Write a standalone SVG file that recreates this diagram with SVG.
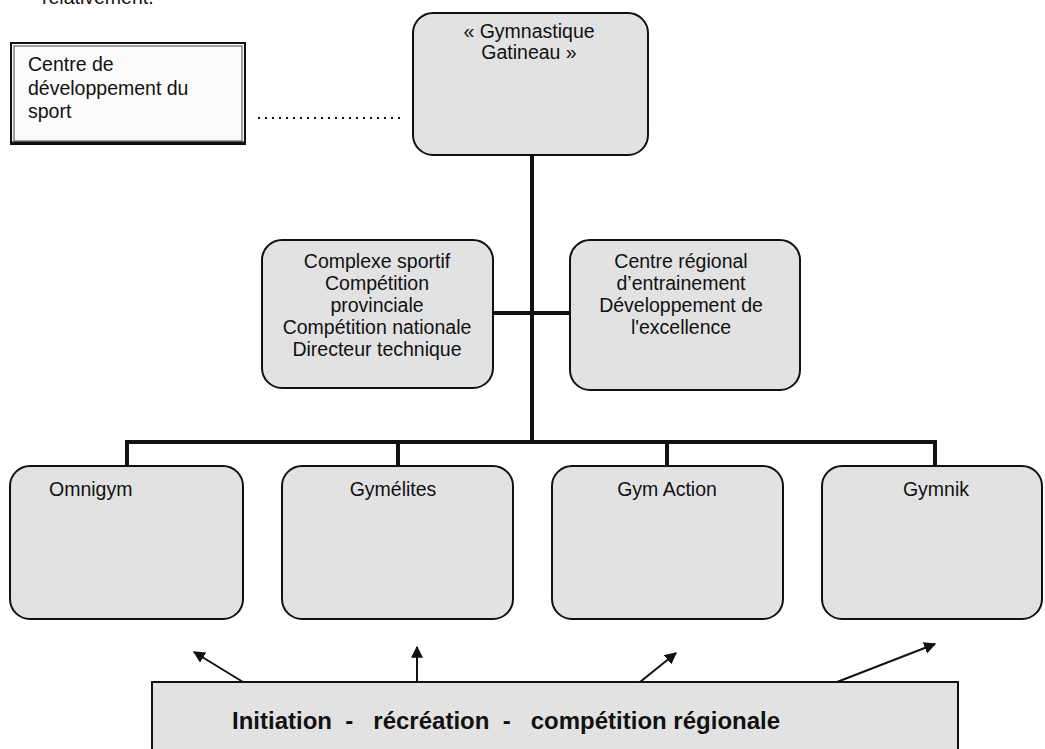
<svg xmlns="http://www.w3.org/2000/svg" width="1045" height="749" viewBox="0 0 1045 749">
<style>
text{font-family:"Liberation Sans",Arial,sans-serif;fill:#111}
.t{font-size:19.5px}
.c{text-anchor:middle}
.box{fill:#e2e2e2;stroke:#111;stroke-width:2}
.bus{stroke:#111;stroke-width:4;fill:none}
.arr{stroke:#111;stroke-width:2;fill:none;marker-end:url(#ah)}
</style>
<defs>
<marker id="ah" viewBox="0 0 10 10" refX="9" refY="5" markerWidth="6" markerHeight="6" orient="auto" markerUnits="strokeWidth">
<path d="M0,0 L10,5 L0,10 z" fill="#111"/>
</marker>
</defs>
<rect width="1045" height="749" fill="#fff"/>
<text class="t" x="42" y="4">relativement.</text>
<g id="connectors">
<line x1="258" y1="118" x2="403" y2="118" stroke="#111" stroke-width="2" stroke-dasharray="2,5"/>
<line class="bus" x1="532" y1="155" x2="532" y2="442"/>
<line class="bus" x1="493" y1="313" x2="570" y2="313"/>
<polyline class="bus" points="127,466 127,442 935,442 935,466"/>
<line class="bus" x1="398" y1="442" x2="398" y2="466"/>
<line class="bus" x1="667" y1="442" x2="667" y2="466"/>
<line class="arr" x1="243" y1="682" x2="194" y2="652"/>
<line class="arr" x1="417" y1="682" x2="417" y2="647"/>
<line class="arr" x1="640" y1="682" x2="676" y2="653"/>
<line class="arr" x1="837" y1="682" x2="935" y2="644"/>
</g>
<g id="centre-dev">
<rect x="11" y="43" width="234" height="101" fill="#fbfbfb" stroke="#111" stroke-width="2"/>
<rect x="14" y="46" width="228" height="95" fill="none" stroke="#444" stroke-width="1"/>
<line x1="11" y1="143" x2="245" y2="143" stroke="#111" stroke-width="3"/>
<text class="t" x="28" y="71">Centre de</text>
<text class="t" x="28" y="95">développement du</text>
<text class="t" x="28" y="118">sport</text>
</g>
<g id="gymnastique-gatineau">
<rect class="box" x="413" y="13" width="235" height="142" rx="20"/>
<text class="t c" x="529" y="38">« Gymnastique</text>
<text class="t c" x="529" y="59">Gatineau »</text>
</g>
<g id="complexe">
<rect class="box" x="262" y="240" width="231" height="148" rx="20"/>
<text class="t c" x="377" y="268">Complexe sportif</text>
<text class="t c" x="377" y="290">Compétition</text>
<text class="t c" x="377" y="312">provinciale</text>
<text class="t c" x="377" y="334">Compétition nationale</text>
<text class="t c" x="377" y="356">Directeur technique</text>
</g>
<g id="centre-regional">
<rect class="box" x="570" y="240" width="230" height="150" rx="20"/>
<text class="t c" x="681" y="268">Centre régional</text>
<text class="t c" x="681" y="290">d’entrainement</text>
<text class="t c" x="681" y="312">Développement de</text>
<text class="t c" x="681" y="334">l'excellence</text>
</g>
<g id="omnigym">
<rect class="box" x="10" y="466" width="233" height="153" rx="20"/>
<text class="t" x="49" y="496">Omnigym</text>
</g>
<g id="gymelites">
<rect class="box" x="282" y="466" width="231" height="153" rx="20"/>
<text class="t c" x="393" y="496">Gymélites</text>
</g>
<g id="gym-action">
<rect class="box" x="552" y="466" width="231" height="153" rx="20"/>
<text class="t c" x="667" y="496">Gym Action</text>
</g>
<g id="gymnik">
<rect class="box" x="822" y="466" width="220" height="153" rx="20"/>
<text class="t c" x="936" y="496">Gymnik</text>
</g>
<g id="initiation">
<rect class="box" x="152" y="682" width="806" height="80"/>
<text x="232" y="729" font-size="24" font-weight="bold" xml:space="preserve">Initiation  -   récréation  -   compétition régionale</text>
</g>
</svg>
